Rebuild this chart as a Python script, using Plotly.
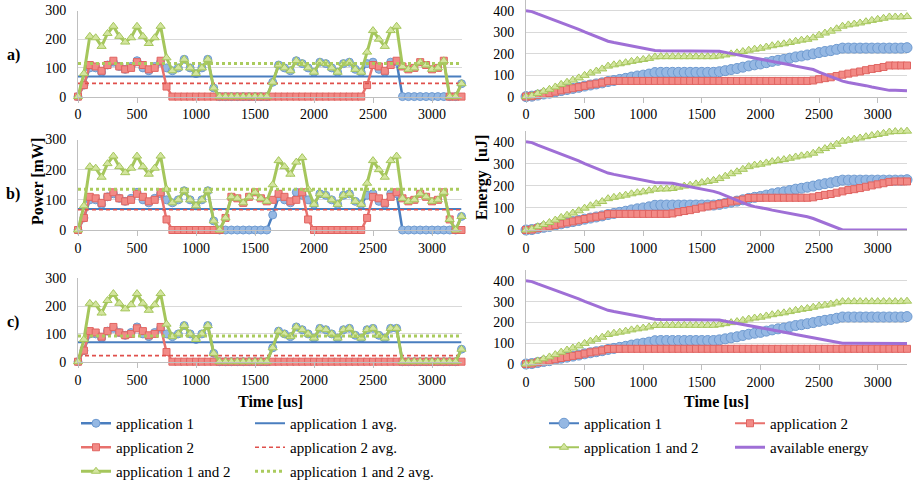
import plotly.graph_objects as go

W, H = 915, 481

# ---------------- data ----------------
time_us = list(range(0, 3300, 50))  # 0 .. 3250 us, 66 samples

app1_power = [0, 40, 100, 100, 85, 110, 120, 105, 95, 105, 125, 100, 90, 105, 120, 100,
              90, 100, 130, 100, 80, 100, 130, 30] + [0] * 9 + \
             [50, 110, 100, 90, 125, 115, 100, 85, 120, 115, 100, 85, 115, 120, 95, 85,
              115, 120, 95, 85, 120, 120] + [0] * 10 + [45]

app2_run = [0, 40, 110, 105, 90, 110, 125, 105, 95, 100, 120, 110, 95, 100, 125, 35]

app2_power_a = app2_run + [0] * 32 + app2_run[:15] + [0, 0, 0]
app2_power_b = app2_run + [0] * 8 + app2_run + [0] * 8 + app2_run + [0, 0]
app2_power_c = app2_run + [0] * 50

both_start = [0, 80, 210, 205, 175, 220, 245, 210, 190, 205, 245, 210, 185, 205, 245, 135,
              90, 100, 130, 100, 80, 100, 130, 30]
both_power_a = both_start + [0] * 9 + \
    [50, 110, 100, 90, 125, 115, 100, 85, 120, 115, 100, 85, 115, 120, 95,
     85, 155, 230, 200, 175, 230, 245,
     105, 95, 100, 120, 110, 95, 100, 125, 0, 0, 45]
both_power_b = both_start + \
    [0, 40, 110, 105, 90, 110, 125, 105, 95,
     150, 230, 210, 185, 225, 240, 135,
     85, 120, 115, 100, 85, 115, 120, 95,
     85, 155, 230, 200, 175, 230, 245,
     105, 95, 100, 120, 110, 95, 100, 125, 35, 0, 45]
both_power_c = both_start + [0] * 9 + \
    [50, 110, 100, 90, 125, 115, 100, 85, 120, 115, 100, 85, 115, 120, 95, 85,
     115, 120, 95, 85, 120, 120] + [0] * 10 + [45]

app1_avg = [70, 70, 70]      # panels a, b, c
app2_avg = [46, 67, 22]
both_avg = [115, 135, 92]

app1_energy = [0, 2, 7, 12, 16, 22, 28, 33, 38, 43, 49, 54, 59, 64, 70, 75, 80, 85, 91, 96,
               100, 105, 112, 113] + [113] * 9 + \
              [116, 121, 126, 131, 137, 143, 148, 152, 158, 164, 169, 173, 179, 185, 189,
               194, 199, 205, 210, 214, 220, 226] + [226] * 10 + [228]

app2_energy_run = [0, 2, 8, 13, 17, 23, 29, 34, 39, 44, 50, 56, 60, 65, 72, 73]
app2_energy_a = app2_energy_run + [73] * 33 + \
    [75, 81, 86, 90, 96, 102, 107, 112, 117, 123, 129, 133, 138, 145] + [145] * 3
app2_energy_b = app2_energy_run + [73] * 9 + \
    [75, 81, 86, 90, 96, 102, 107, 112, 117, 123, 129, 133, 138, 145, 146] + [146] * 9 + \
    [148, 154, 159, 163, 169, 175, 181, 185, 190, 196, 202, 207, 212, 218, 220] + [220] * 2
app2_energy_c = app2_energy_run + [73] * 50

both_energy_start = [0, 4, 15, 25, 34, 45, 57, 67, 77, 87, 99, 110, 119, 129, 142, 148,
                     153, 158, 164, 169, 173, 178, 185, 186]
both_energy_a = both_energy_start + [186] * 9 + \
    [189, 194, 199, 204, 210, 216, 221, 225, 231, 237, 242, 246, 252, 258, 263, 267,
     274, 286, 296, 305, 316, 328,
     334, 338, 343, 349, 355, 360, 365, 371, 371, 371, 373]
both_energy_b = both_energy_start + \
    [186, 188, 194, 199, 203, 209, 215, 220, 225,
     233, 244, 255, 264, 275, 287, 294,
     298, 304, 310, 315, 319, 325, 331, 336, 340,
     348, 359, 369, 378, 389, 402,
     407, 412, 417, 423, 428, 433, 438, 444, 446, 446, 448]
both_energy_c = both_energy_start + [186] * 9 + \
    [189, 194, 199, 204, 210, 216, 221, 225, 231, 237, 242, 246, 252, 258, 263, 267,
     273, 279, 283, 288, 294, 300] + [300] * 10 + [302]

avail_start = [400, 396, 385, 375, 366, 355, 343, 333, 323, 313, 301, 290, 281, 271, 258, 252,
               247, 242, 236, 231, 227, 222, 215, 214]
available_a = avail_start + [214] * 9 + \
    [211, 206, 201, 196, 190, 184, 179, 175, 169, 163, 158, 154, 148, 142, 137, 133,
     126, 114, 104, 95, 84, 72,
     66, 62, 57, 51, 45, 40, 35, 29, 29, 29, 27]
available_b = avail_start + \
    [214, 212, 206, 201, 197, 191, 185, 180, 175,
     167, 156, 145, 136, 125, 113, 106,
     102, 96, 90, 85, 81, 75, 69, 64, 60,
     52, 41, 31, 22, 11, 0] + [0] * 11
available_c = avail_start + [214] * 9 + \
    [211, 206, 201, 196, 190, 184, 179, 175, 169, 163, 158, 154, 148, 142, 137, 133,
     127, 121, 117, 112, 106, 100] + [100] * 10 + [98]

panel_labels = ["a)", "b)", "c)"]
power_ticks = [0, 100, 200, 300]
energy_ticks = [0, 100, 200, 300, 400]
time_ticks = [0, 500, 1000, 1500, 2000, 2500, 3000]

app2_power = [app2_power_a, app2_power_b, app2_power_c]
both_power = [both_power_a, both_power_b, both_power_c]
app2_energy = [app2_energy_a, app2_energy_b, app2_energy_c]
both_energy = [both_energy_a, both_energy_b, both_energy_c]
available = [available_a, available_b, available_c]

# ---------------- style / layout helpers ----------------
SERIF = "Liberation Serif, Times New Roman, serif"
BLUE_L, BLUE_F, BLUE_E = "#4A7EBF", "#95B8E3", "#6E9AD0"
RED_L, RED_F, RED_E = "#E8716D", "#F28A86", "#E06461"
GRN_L, GRN_F, GRN_E = "#A5C65C", "#D3E59F", "#A5C65C"
PURPLE = "#9F6FD6"


def fx(p):
    return p / W


def fy(p):
    return 1 - p / H


left_x = [fx(78), fx(461.5)]
right_x = [fx(526), fx(907)]
left_y_px = [(10.5, 96.6), (139.5, 230), (278.3, 361.7)]
right_y_px = [(0, 96.6), (130.7, 230), (270.4, 364)]

fig = go.Figure()

for k in range(3):
    xl, yl = f"x{2*k+1}", f"y{2*k+1}"
    xr, yr = f"x{2*k+2}", f"y{2*k+2}"
    show = (k == 2)
    t0, t1 = time_us[0], time_us[-1]

    # ----- power panel -----
    fig.add_trace(go.Scatter(x=time_us, y=app1_power, xaxis=xl, yaxis=yl, mode="lines+markers",
                             name="application 1", legend="legend", legendgroup="p1", showlegend=show,
                             line=dict(color=BLUE_L, width=2.5), cliponaxis=False,
                             marker=dict(symbol="circle", size=8, color=BLUE_F, line=dict(color=BLUE_E, width=1))))
    fig.add_trace(go.Scatter(x=[t0, t1], y=[app1_avg[k]] * 2, xaxis=xl, yaxis=yl, mode="lines",
                             name="application 1 avg.", legend="legend2", legendgroup="a1", showlegend=show,
                             line=dict(color=BLUE_L, width=2)))
    fig.add_trace(go.Scatter(x=time_us, y=app2_power[k], xaxis=xl, yaxis=yl, mode="lines+markers",
                             name="application 2", legend="legend", legendgroup="p2", showlegend=show,
                             line=dict(color=RED_L, width=2.5), cliponaxis=False,
                             marker=dict(symbol="square", size=7, color=RED_F, line=dict(color=RED_E, width=1))))
    fig.add_trace(go.Scatter(x=[t0, t1], y=[app2_avg[k]] * 2, xaxis=xl, yaxis=yl, mode="lines",
                             name="application 2 avg.", legend="legend2", legendgroup="a2", showlegend=show,
                             line=dict(color="#E0504C", width=1.6, dash="4px,3px")))
    fig.add_trace(go.Scatter(x=time_us, y=both_power[k], xaxis=xl, yaxis=yl, mode="lines+markers",
                             name="application 1 and 2", legend="legend", legendgroup="p3", showlegend=show,
                             line=dict(color=GRN_L, width=3), cliponaxis=False,
                             marker=dict(symbol="triangle-up", size=8, color=GRN_F, line=dict(color=GRN_E, width=1))))
    fig.add_trace(go.Scatter(x=[t0, t1], y=[both_avg[k]] * 2, xaxis=xl, yaxis=yl, mode="lines",
                             name="application 1 and 2 avg.", legend="legend2", legendgroup="a3", showlegend=show,
                             line=dict(color="#AACB5E", width=3, dash="3px,3px")))

    # ----- energy panel -----
    fig.add_trace(go.Scatter(x=time_us, y=app1_energy, xaxis=xr, yaxis=yr, mode="lines+markers",
                             name="application 1", legend="legend3", legendgroup="e1", showlegend=show,
                             line=dict(color=BLUE_L, width=2), cliponaxis=False,
                             marker=dict(symbol="circle", size=10, color=BLUE_F, line=dict(color=BLUE_E, width=1))))
    fig.add_trace(go.Scatter(x=time_us, y=app2_energy[k], xaxis=xr, yaxis=yr, mode="lines+markers",
                             name="application 2", legend="legend4", legendgroup="e2", showlegend=show,
                             line=dict(color=RED_L, width=2), cliponaxis=False,
                             marker=dict(symbol="square", size=7, color=RED_F, line=dict(color=RED_E, width=1))))
    fig.add_trace(go.Scatter(x=time_us, y=both_energy[k], xaxis=xr, yaxis=yr, mode="lines+markers",
                             name="application 1 and 2", legend="legend3", legendgroup="e3", showlegend=show,
                             line=dict(color=GRN_L, width=2), cliponaxis=False,
                             marker=dict(symbol="triangle-up", size=8, color=GRN_F, line=dict(color=GRN_E, width=1))))
    fig.add_trace(go.Scatter(x=time_us, y=available[k], xaxis=xr, yaxis=yr, mode="lines",
                             name="available energy", legend="legend4", legendgroup="e4", showlegend=show,
                             line=dict(color=PURPLE, width=3), cliponaxis=False))

tickfont = dict(family=SERIF, size=14, color="#000000")
layout = dict(width=W, height=H, autosize=False,
              margin=dict(l=0, r=0, t=0, b=0, pad=0, autoexpand=False),
              paper_bgcolor="white", plot_bgcolor="white", showlegend=True,
              font=dict(family=SERIF, size=14, color="#000000"))

for k in range(3):
    for side in range(2):
        n = 2 * k + 1 + side
        xs = "" if n == 1 else str(n)
        top, bot = (left_y_px if side == 0 else right_y_px)[k]
        layout[f"xaxis{xs}"] = dict(domain=left_x if side == 0 else right_x, range=[0, 3250],
                                    tickvals=time_ticks, showgrid=False, zeroline=False,
                                    showline=True, linecolor="#BFBFBF", linewidth=1,
                                    ticks="outside", ticklen=5, tickcolor="#BFBFBF",
                                    tickfont=tickfont, anchor=f"y{n}", fixedrange=True,
                                    automargin=False)
        layout[f"yaxis{xs}"] = dict(domain=[fy(bot), fy(top)],
                                    range=[0, 300] if side == 0 else [0, 450],
                                    tickvals=power_ticks if side == 0 else energy_ticks,
                                    showgrid=True, gridcolor="#D9D9D9", gridwidth=1, zeroline=False,
                                    showline=True, linecolor="#BFBFBF", linewidth=1, ticks="",
                                    ticklabelstandoff=8, tickfont=tickfont, anchor=f"x{n}",
                                    fixedrange=True, automargin=False)

legfont = dict(family=SERIF, size=15, color="#000000")
leg_common = dict(xanchor="left", yanchor="top", font=legfont, bgcolor="rgba(0,0,0,0)",
                  orientation="v", tracegroupgap=1.5, itemwidth=30, borderwidth=0,
                  traceorder="grouped")
LEG_TOP = 407
layout["legend"] = dict(x=fx(76), y=fy(LEG_TOP), **leg_common)
layout["legend2"] = dict(x=fx(250), y=fy(LEG_TOP), **leg_common)
layout["legend3"] = dict(x=fx(544), y=fy(LEG_TOP), **leg_common)
layout["legend4"] = dict(x=fx(730), y=fy(LEG_TOP), **leg_common)

bold = dict(family=SERIF, size=16, color="#000000")
ann = []
for k, (lab, ypx) in enumerate(zip(panel_labels, [55, 194, 322])):
    ann.append(dict(text=f"<b>{lab}</b>", x=fx(13), y=fy(ypx), xref="paper", yref="paper",
                    showarrow=False, font=bold, xanchor="center", yanchor="middle"))
ann.append(dict(text="<b>Power [mW]</b>", x=fx(37), y=fy(182), xref="paper", yref="paper",
                showarrow=False, font=bold, textangle=-90, xanchor="center", yanchor="middle"))
ann.append(dict(text="<b>Energy  [uJ]</b>", x=fx(482), y=fy(177), xref="paper", yref="paper",
                showarrow=False, font=bold, textangle=-90, xanchor="center", yanchor="middle"))
ann.append(dict(text="<b>Time [us]</b>", x=fx(270), y=fy(401), xref="paper", yref="paper",
                showarrow=False, font=bold, xanchor="center", yanchor="middle"))
ann.append(dict(text="<b>Time [us]</b>", x=fx(716), y=fy(401), xref="paper", yref="paper",
                showarrow=False, font=bold, xanchor="center", yanchor="middle"))
layout["annotations"] = ann

fig.update_layout(**layout)
fig.write_html("out.html")
